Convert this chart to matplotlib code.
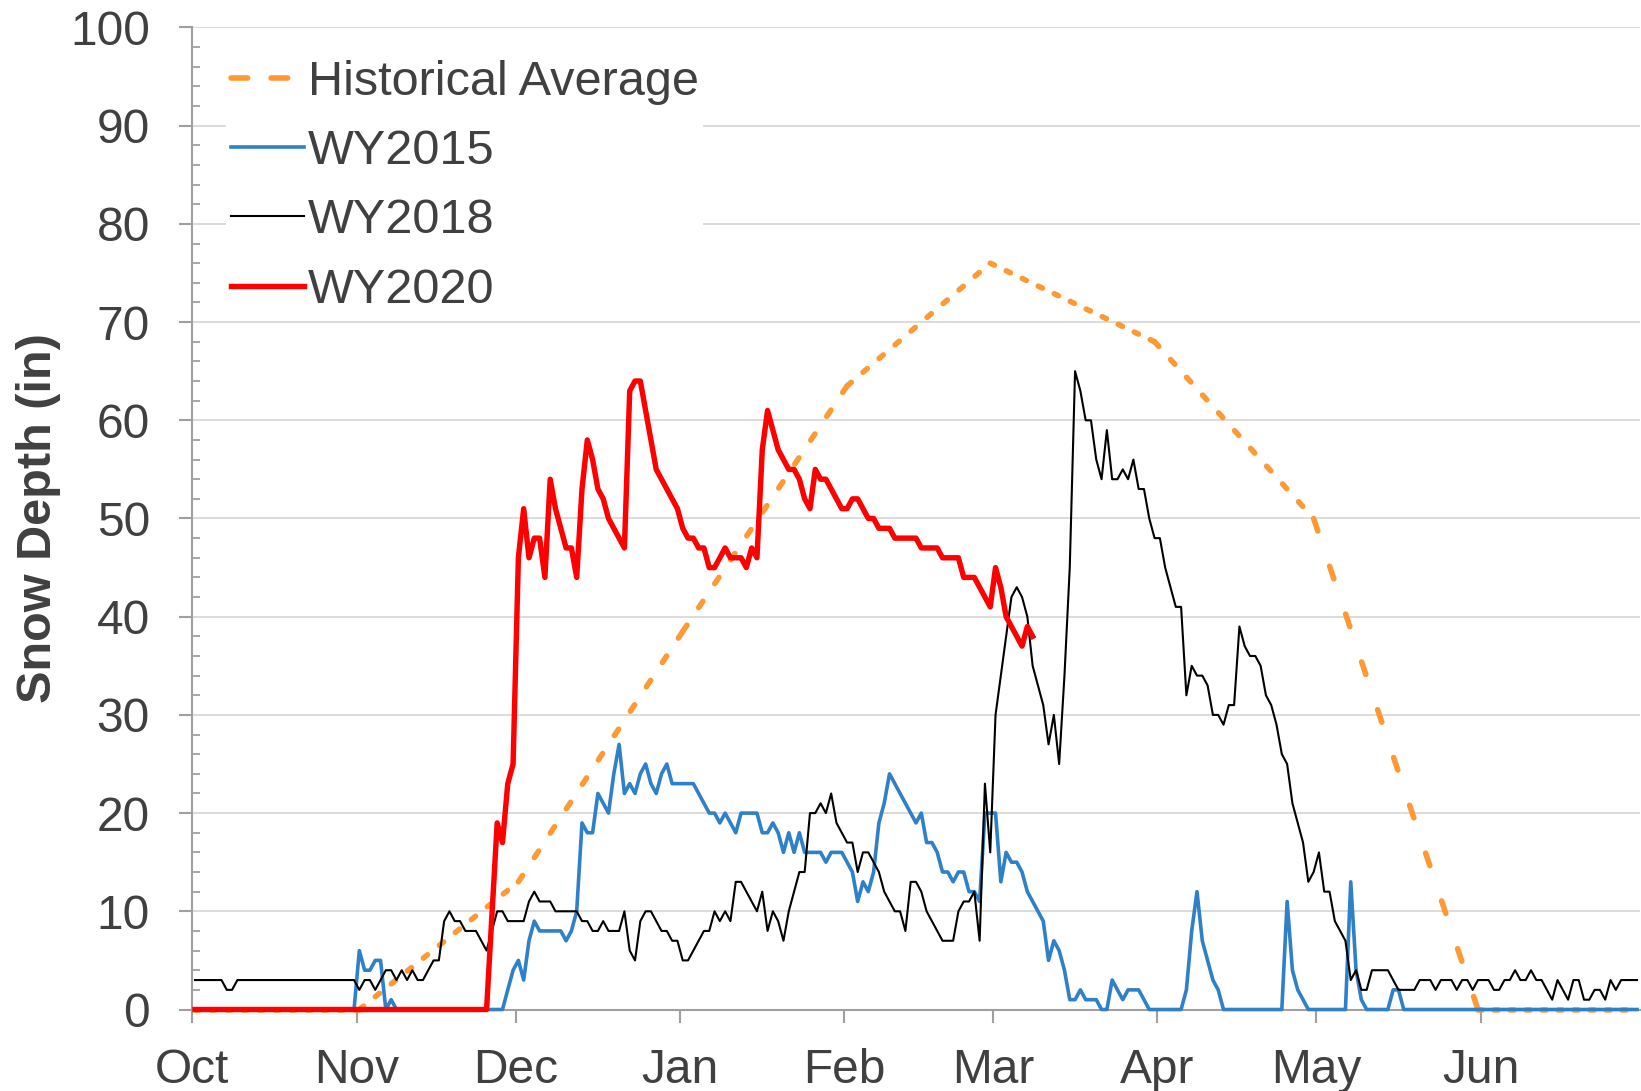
#!/usr/bin/env python3
import numpy as np

import matplotlib
matplotlib.use("Agg")
import matplotlib.pyplot as plt
from matplotlib.lines import Line2D
from matplotlib.ticker import MultipleLocator


# x axis: day index counted from Oct 1 (water year), one category per day
N_DAYS = 273
MONTH_STARTS = [0, 31, 61, 92, 123, 151, 182, 212, 243]
MONTH_LABELS = ["Oct", "Nov", "Dec", "Jan", "Feb", "Mar", "Apr", "May", "Jun"]

# (day index, snow depth in inches)
HIST_AVG = [(0, 0), (31, 0), (61, 13), (92, 38.5), (123, 63.5), (150, 76),
            (181, 68), (211, 50), (242, 0), (272, 0)]

WY2015 = [(0, 0), (30, 0), (31, 6), (32, 4), (33, 4), (34, 5), (35, 5), (36, 0),
          (37, 1), (38, 0), (58, 0), (60, 4), (61, 5), (62, 3), (63, 7), (64, 9),
          (65, 8), (69, 8), (70, 7), (71, 8), (72, 10), (73, 19), (74, 18), (75, 18),
          (76, 22), (78, 20), (79, 24), (80, 27), (81, 22), (82, 23), (83, 22),
          (84, 24), (85, 25), (86, 23), (87, 22), (88, 24), (89, 25), (90, 23),
          (94, 23), (95, 22), (97, 20), (98, 20), (99, 19), (100, 20), (102, 18),
          (103, 20), (106, 20), (107, 18), (108, 18), (109, 19), (110, 18), (111, 16),
          (112, 18), (113, 16), (114, 18), (115, 16), (118, 16), (119, 15), (120, 16),
          (122, 16), (124, 14), (125, 11), (126, 13), (127, 12), (128, 14), (129, 19),
          (130, 21), (131, 24), (132, 23), (133, 22), (134, 21), (135, 20), (136, 19),
          (137, 20), (138, 17), (139, 17), (140, 16), (141, 14), (142, 14), (143, 13),
          (144, 14), (145, 14), (146, 12), (147, 12), (148, 11), (149, 20), (150, 20),
          (151, 20), (152, 13), (153, 16), (154, 15), (155, 15), (156, 14), (157, 12),
          (158, 11), (159, 10), (160, 9), (161, 5), (162, 7), (163, 6), (164, 4),
          (165, 1), (166, 1), (167, 2), (168, 1), (170, 1), (171, 0), (172, 0),
          (173, 3), (174, 2), (175, 1), (176, 2), (178, 2), (179, 1), (180, 0),
          (186, 0), (187, 2), (188, 8), (189, 12), (190, 7), (191, 5), (192, 3),
          (193, 2), (194, 0), (205, 0), (206, 11), (207, 4), (208, 2), (210, 0),
          (217, 0), (218, 13), (219, 4), (220, 1), (221, 0), (225, 0), (226, 2),
          (227, 2), (228, 0), (272, 0)]

WY2018 = [(0, 3), (5, 3), (6, 2), (7, 2), (8, 3), (30, 3), (31, 2), (32, 3), (33, 3),
          (34, 2), (35, 3), (36, 4), (37, 4), (38, 3), (39, 4), (40, 3), (41, 4),
          (42, 3), (43, 3), (44, 4), (45, 5), (46, 5), (47, 9), (48, 10), (49, 9),
          (50, 9), (51, 8), (53, 8), (55, 6), (57, 10), (58, 10), (59, 9), (62, 9),
          (63, 11), (64, 12), (65, 11), (67, 11), (68, 10), (72, 10), (73, 9), (74, 9),
          (75, 8), (76, 8), (77, 9), (78, 8), (80, 8), (81, 10), (82, 6), (83, 5),
          (84, 9), (85, 10), (86, 10), (88, 8), (89, 8), (90, 7), (91, 7), (92, 5),
          (93, 5), (95, 7), (96, 8), (97, 8), (98, 10), (99, 9), (100, 10), (101, 9),
          (102, 13), (103, 13), (104, 12), (106, 10), (107, 12), (108, 8), (109, 10),
          (110, 9), (111, 7), (112, 10), (114, 14), (115, 14), (116, 20), (117, 20),
          (118, 21), (119, 20), (120, 22), (121, 19), (122, 18), (123, 17), (124, 17),
          (125, 14), (126, 16), (127, 16), (129, 14), (130, 12), (132, 10), (133, 10),
          (134, 8), (135, 13), (136, 13), (137, 12), (138, 10), (139, 9), (141, 7),
          (143, 7), (144, 10), (145, 11), (146, 11), (147, 12), (148, 7), (149, 23),
          (150, 16), (151, 30), (152, 34), (153, 38), (154, 42), (155, 43), (156, 42),
          (157, 40), (158, 35), (159, 33), (160, 31), (161, 27), (162, 30), (163, 25),
          (164, 34), (165, 45), (166, 65), (167, 63), (168, 60), (169, 60), (170, 56),
          (171, 54), (172, 59), (173, 54), (174, 54), (175, 55), (176, 54), (177, 56),
          (178, 53), (179, 53), (180, 50), (181, 48), (182, 48), (183, 45), (184, 43),
          (185, 41), (186, 41), (187, 32), (188, 35), (189, 34), (190, 34), (191, 33),
          (192, 30), (193, 30), (194, 29), (195, 31), (196, 31), (197, 39), (198, 37),
          (199, 36), (200, 36), (201, 35), (202, 32), (203, 31), (204, 29), (205, 26),
          (206, 25), (207, 21), (208, 19), (209, 17), (210, 13), (211, 14), (212, 16),
          (213, 12), (214, 12), (215, 9), (216, 8), (217, 7), (218, 3), (219, 4),
          (220, 2), (221, 2), (222, 4), (225, 4), (226, 3), (227, 2), (230, 2),
          (231, 3), (233, 3), (234, 2), (235, 3), (237, 3), (238, 2), (239, 3),
          (240, 3), (241, 2), (242, 3), (244, 3), (245, 2), (246, 2), (247, 3),
          (248, 3), (249, 4), (250, 3), (251, 3), (252, 4), (253, 3), (254, 3),
          (255, 2), (256, 1), (257, 3), (258, 2), (259, 1), (260, 3), (261, 3),
          (262, 1), (263, 1), (264, 2), (265, 2), (266, 1), (267, 3), (268, 2),
          (269, 3), (272, 3)]

WY2020 = [(0, 0), (55, 0), (57, 19), (58, 17), (59, 23), (60, 25), (61, 46), (62, 51),
          (63, 46), (64, 48), (65, 48), (66, 44), (67, 54), (68, 51), (69, 49), (70, 47),
          (71, 47), (72, 44), (73, 53), (74, 58), (75, 56), (76, 53), (77, 52), (78, 50),
          (79, 49), (80, 48), (81, 47), (82, 63), (83, 64), (84, 64), (85, 61), (86, 58),
          (87, 55), (88, 54), (89, 53), (90, 52), (91, 51), (92, 49), (93, 48), (94, 48),
          (95, 47), (96, 47), (97, 45), (98, 45), (99, 46), (100, 47), (101, 46),
          (103, 46), (104, 45), (105, 47), (106, 46), (107, 57), (108, 61), (109, 59),
          (110, 57), (111, 56), (112, 55), (113, 55), (114, 54), (115, 52), (116, 51),
          (117, 55), (118, 54), (119, 54), (120, 53), (121, 52), (122, 51), (123, 51),
          (124, 52), (125, 52), (126, 51), (127, 50), (128, 50), (129, 49), (131, 49),
          (132, 48), (136, 48), (137, 47), (140, 47), (141, 46), (144, 46), (145, 44),
          (147, 44), (148, 43), (150, 41), (151, 45), (152, 43), (153, 40), (154, 39),
          (155, 38), (156, 37), (157, 39), (158, 38)]

TEXT_COLOR = "#404040"
AXIS_COLOR = "#a0a0a0"
GRID_COLOR = "#d9d9d9"
ORANGE = "#ff9933"
BLUE = "#2e80c8"
TICK_SIZE = 34.5
LEGEND_SIZE = 35


def split(pairs):
    # points sit in the middle of each day's slot (Excel "between tick marks")
    days = np.array([p[0] for p in pairs], dtype=float) + 0.5
    vals = np.array([p[1] for p in pairs], dtype=float)
    return days, vals


def main():
    plt.rcParams["font.family"] = ["Liberation Sans", "DejaVu Sans"]

    fig = plt.figure(figsize=(16.41, 10.91), dpi=100)
    ax = fig.add_axes([0.1172, 0.0747, 0.8820, 0.9001])

    ax.set_xlim(0, N_DAYS)
    ax.set_ylim(0, 100)

    # historical average: dashes keep a constant horizontal spacing, so the
    # pattern is stretched on steep segments
    bbox = ax.get_window_extent()
    px_day = bbox.width / N_DAYS
    px_in = bbox.height / 100.0
    hx, hy = split(HIST_AVG)
    lw_avg = 4.0
    on_px, off_px = 4.2, 11.8
    for i in range(len(hx) - 1):
        dx = (hx[i + 1] - hx[i]) * px_day
        dy = (hy[i + 1] - hy[i]) * px_in
        r = np.hypot(dx, dy) / dx
        on = on_px * r * 0.72 / lw_avg
        off = off_px * r * 0.72 / lw_avg
        ax.plot(hx[i:i + 2], hy[i:i + 2], color=ORANGE, lw=lw_avg,
                linestyle=(0, (on, off)), dash_capstyle="round",
                zorder=3, clip_on=False)

    x15, y15 = split(WY2015)
    x18, y18 = split(WY2018)
    x20, y20 = split(WY2020)
    l15, = ax.plot(x15, y15, color=BLUE, lw=2.6, zorder=4, clip_on=False)
    l18, = ax.plot(x18, y18, color="black", lw=1.5, zorder=5, clip_on=False)
    l20, = ax.plot(x20, y20, color="#ff0000", lw=3.9, zorder=6, clip_on=False)

    # axes styling
    for side in ("top", "right"):
        ax.spines[side].set_visible(False)
    for side in ("left", "bottom"):
        ax.spines[side].set_color(AXIS_COLOR)
        ax.spines[side].set_linewidth(1.5)

    ax.set_xticks(MONTH_STARTS)
    ax.set_xticklabels(MONTH_LABELS)
    ax.yaxis.set_major_locator(MultipleLocator(10))
    ax.yaxis.set_minor_locator(MultipleLocator(2))
    ax.tick_params(axis="x", which="major", direction="out", length=9.5, width=1.5,
                   color=AXIS_COLOR, labelsize=TICK_SIZE, labelcolor=TEXT_COLOR, pad=18)
    ax.tick_params(axis="y", which="major", direction="out", length=9.5, width=1.5,
                   color=AXIS_COLOR, labelsize=TICK_SIZE, labelcolor=TEXT_COLOR, pad=21)
    ax.tick_params(axis="y", which="minor", direction="in", length=5.8, width=1.3,
                   color=AXIS_COLOR)

    ax.grid(True, axis="y", which="major", color=GRID_COLOR, linewidth=1.3)
    ax.set_axisbelow(True)

    ax.set_ylabel("Snow Depth (in)", fontsize=35, fontweight="bold",
                  color=TEXT_COLOR)
    ax.yaxis.set_label_coords(-0.0907, 0.5)

    avg_handle = Line2D([], [], color=ORANGE, lw=lw_avg, linestyle=(0, (3.0, 4.2)),
                        dash_capstyle="round")
    leg = ax.legend([avg_handle, l15, l18, l20],
                    ["Historical Average", "WY2015", "WY2018", "WY2020"],
                    loc="upper left", bbox_to_anchor=(0.0232, 0.9722),
                    borderaxespad=0, borderpad=0.1, handlelength=1.5,
                    handletextpad=0.08, labelspacing=0.5, fontsize=LEGEND_SIZE,
                    frameon=True, fancybox=False, framealpha=1.0,
                    facecolor="white", edgecolor="none")
    for t in leg.get_texts():
        t.set_color(TEXT_COLOR)
    leg.set_zorder(10)

    fig.savefig("out.png", dpi=100)
    plt.close(fig)


if __name__ == "__main__":
    main()
